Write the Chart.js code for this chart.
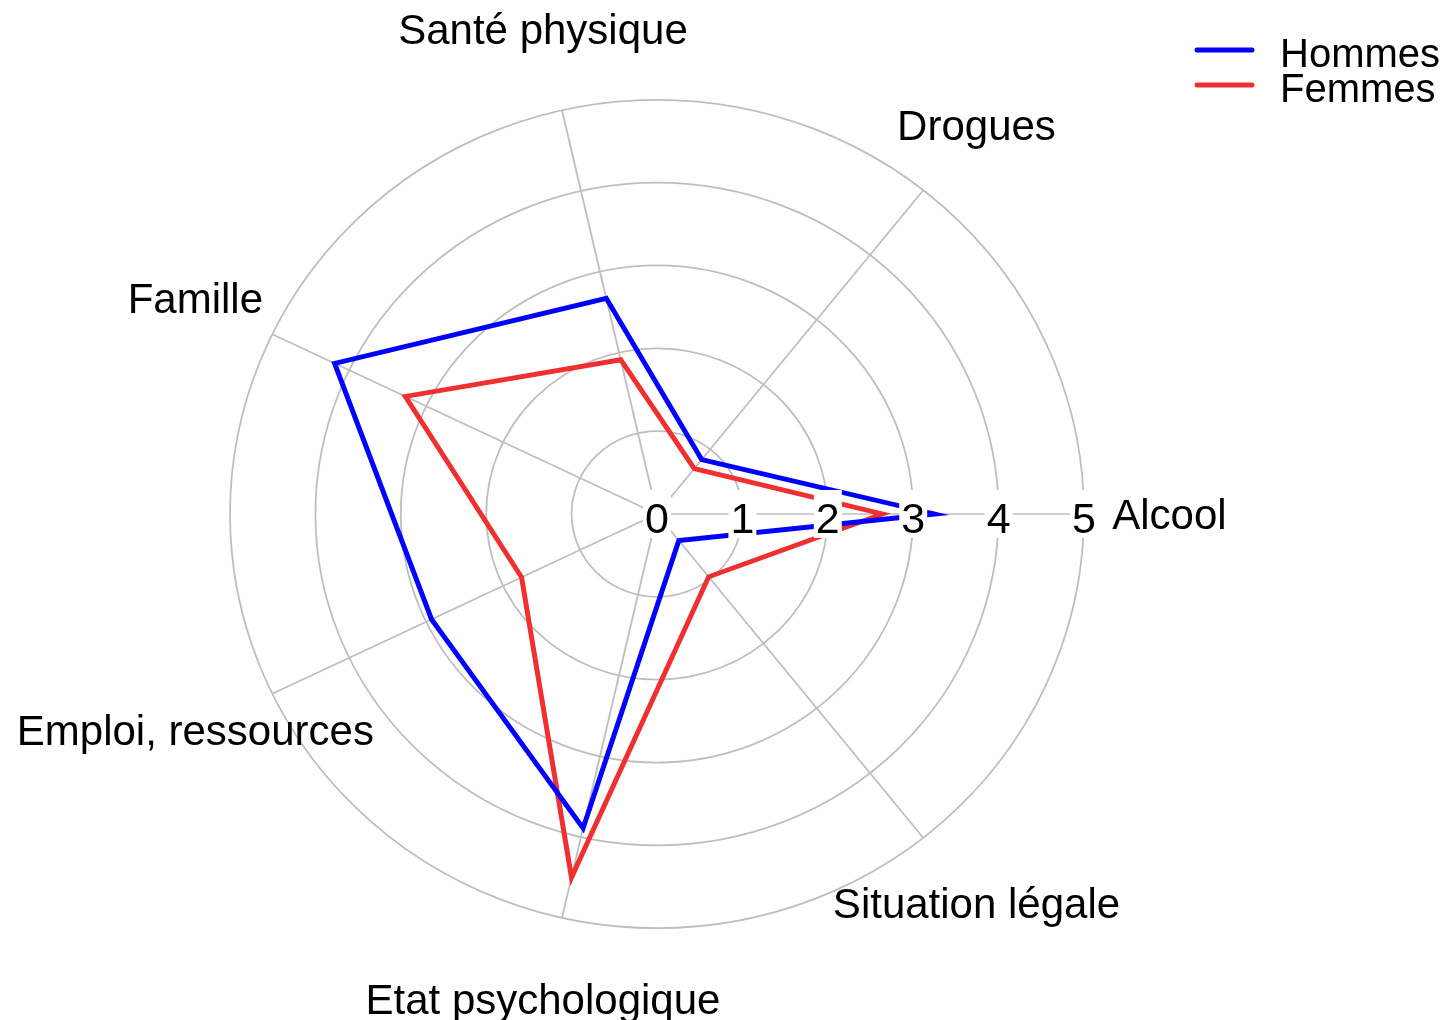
<!DOCTYPE html>
<html lang="fr">
<head>
  <meta charset="UTF-8" />
  <title>Profil radar - Hommes / Femmes</title>
  <script src="https://cdn.jsdelivr.net/npm/chart.js"></script>
  <style>
    body {
      margin: 0;
      background: white;
    }
    canvas {
      display: block;
    }
  </style>
</head>
<body>
  <canvas id="graficoRadar" width="1450" height="1020"></canvas>

  <script>
    // axes, dans l'ordre horaire a partir de la droite (Alcool)
    const domaines = ["Alcool", "Situation légale", "Etat psychologique", "Emploi, ressources", "Famille", "Santé physique", "Drogues"];
    const hommes = [3.25, 0.41, 3.89, 2.93, 4.19, 2.67, 0.84];
    const femmes = [2.64, 0.97, 4.50, 1.76, 3.27, 1.91, 0.70];
    const graduations = [0, 1, 2, 3, 4, 5];

    const police = '"Liberation Sans", Arial, sans-serif';
    // le graphique d'origine est un peu ecrase verticalement
    const ECRASEMENT = 0.97;

    const dessin = {
      id: 'dessin',
      beforeDraw(chart) {
        const ctx = chart.ctx;
        const r = chart.scales.r;
        ctx.save();
        ctx.translate(r.xCenter, r.yCenter);
        ctx.scale(1, ECRASEMENT);
        ctx.translate(-r.xCenter, -r.yCenter);
      },
      afterDatasetsDraw(chart) {
        const ctx = chart.ctx;
        const r = chart.scales.r;
        ctx.restore();
        ctx.save();

        // graduations le long de l'axe Alcool, fond blanc par-dessus les lignes
        ctx.font = '43px ' + police;
        ctx.textAlign = 'center';
        ctx.textBaseline = 'alphabetic';
        graduations.forEach(v => {
          const p = r.getPointPositionForValue(0, v);
          ctx.fillStyle = 'white';
          ctx.fillRect(p.x - 14, p.y - 24, 28, 48);
          ctx.fillStyle = 'black';
          ctx.fillText(String(v), p.x, p.y + 19);
        });

        // noms des axes
        ctx.font = '42px ' + police;
        domaines.forEach((nom, i) => {
          const p = r.getPointPositionForValue(i, 6);
          const y = r.yCenter + (p.y - r.yCenter) * ECRASEMENT;
          ctx.fillText(nom, p.x, y + 15);
        });

        // legende
        ctx.font = '40px ' + police;
        ctx.textAlign = 'left';
        ctx.lineCap = 'round';
        chart.data.datasets.forEach((ds, i) => {
          const y = 50 + i * 35;
          ctx.strokeStyle = ds.borderColor;
          ctx.lineWidth = 5;
          ctx.beginPath();
          ctx.moveTo(1197, y);
          ctx.lineTo(1252, y);
          ctx.stroke();
          ctx.fillStyle = 'black';
          ctx.fillText(ds.label, 1280, y + 17);
        });

        ctx.restore();
      }
    };

    new Chart(document.getElementById("graficoRadar"), {
      type: 'radar',
      data: {
        labels: domaines,
        datasets: [
          {
            label: 'Hommes',
            data: hommes,
            borderColor: '#0000ff',
            borderWidth: 5,
            fill: false,
            pointRadius: 0,
            borderJoinStyle: 'miter'
          },
          {
            label: 'Femmes',
            data: femmes,
            borderColor: '#ef3030',
            borderWidth: 5,
            fill: false,
            pointRadius: 0,
            borderJoinStyle: 'miter'
          }
        ]
      },
      options: {
        responsive: false,
        animation: false,
        events: [],
        layout: {
          padding: { left: 230, right: 366, top: 87, bottom: 79 }
        },
        plugins: {
          legend: { display: false },
          tooltip: { enabled: false }
        },
        scales: {
          r: {
            min: 0,
            max: 5,
            startAngle: 90,
            ticks: { display: false, stepSize: 1 },
            pointLabels: { display: false },
            grid: { circular: true, color: '#bebebe', lineWidth: 1.8 },
            angleLines: { color: '#bebebe', lineWidth: 1.8 }
          }
        }
      },
      plugins: [dessin]
    });
  </script>
</body>
</html>
